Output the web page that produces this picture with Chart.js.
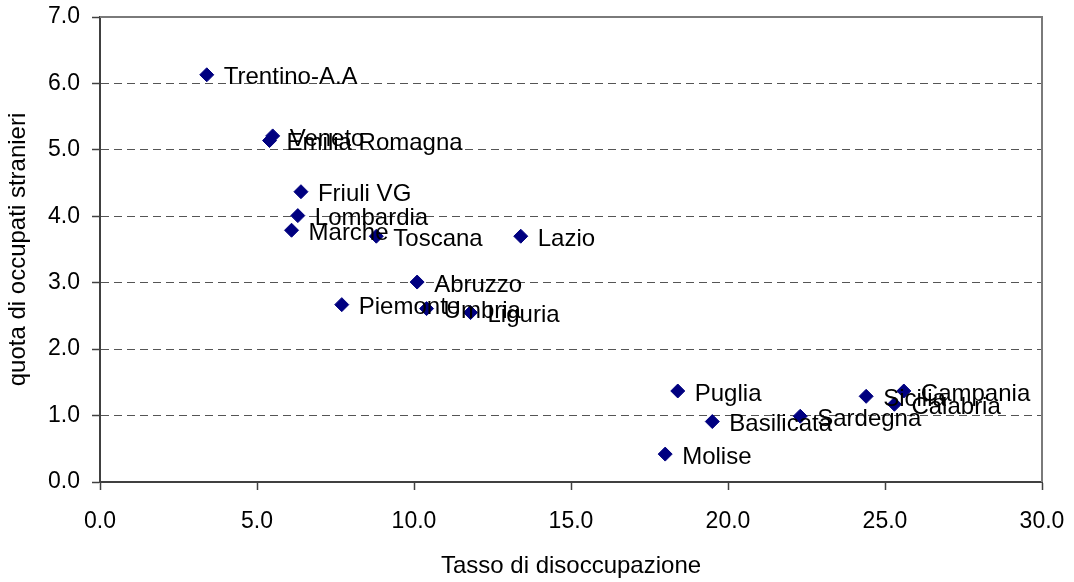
<!DOCTYPE html>
<html>
<head>
<meta charset="utf-8">
<script src="https://cdn.jsdelivr.net/npm/chart.js@4"></script>
<style>
  html, body { margin: 0; padding: 0; background: #fff; }
  #wrap { width: 1074px; height: 582px; }
</style>
</head>
<body>
<div id="wrap"><canvas id="scatter-chart" width="1074" height="582"></canvas></div>
<script>
const regioni = [
  "Trentino-A.A", "Veneto", "Emilia Romagna", "Friuli VG", "Lombardia",
  "Marche", "Toscana", "Lazio", "Abruzzo", "Piemonte", "Umbria", "Liguria",
  "Puglia", "Basilicata", "Molise", "Sardegna", "Sicilia", "Campania", "Calabria"
];
// tasso di disoccupazione (x)
const disoccupazione = [
  3.4, 5.5, 5.4, 6.4, 6.3, 6.1, 8.8, 13.4, 10.1, 7.7, 10.4, 11.8,
  18.4, 19.5, 18.0, 22.3, 24.4, 25.6, 25.3
];
// quota di occupati stranieri (y)
const quotaStranieri = [
  6.13, 5.21, 5.14, 4.37, 4.01, 3.79, 3.70, 3.70, 3.01, 2.67, 2.61, 2.55,
  1.37, 0.91, 0.42, 0.99, 1.29, 1.37, 1.17
];

const fontName = "'Liberation Sans', Arial, sans-serif";
const tickSize = 23;
const textSize = 24;

// etichette accanto ai punti
const pointLabels = {
  id: "pointLabels",
  afterDatasetsDraw(chart) {
    const ctx = chart.ctx;
    const meta = chart.getDatasetMeta(0);
    ctx.save();
    ctx.font = textSize + "px " + fontName;
    ctx.fillStyle = "#000";
    ctx.textBaseline = "middle";
    ctx.textAlign = "left";
    meta.data.forEach((pt, i) => {
      ctx.fillText(regioni[i], pt.x + 17, pt.y + 3);
    });
    ctx.restore();
  }
};

// cornice superiore e destra dell'area del grafico
const frame = {
  id: "frame",
  beforeDatasetsDraw(chart) {
    const { ctx, chartArea: a } = chart;
    ctx.save();
    ctx.strokeStyle = "#7a7a7a";
    ctx.lineWidth = 2;
    ctx.beginPath();
    ctx.moveTo(a.left, a.top);
    ctx.lineTo(a.right, a.top);
    ctx.lineTo(a.right, a.bottom);
    ctx.stroke();
    ctx.restore();
  }
};

new Chart(document.getElementById("scatter-chart"), {
  type: "scatter",
  data: {
    datasets: [{
      data: disoccupazione.map((x, i) => ({ x: x, y: quotaStranieri[i] })),
      pointStyle: "rectRot",
      pointRadius: 7,
      pointHoverRadius: 7,
      backgroundColor: "#000080",
      borderColor: "#000080",
      borderWidth: 1
    }]
  },
  options: {
    responsive: false,
    animation: false,
    layout: { padding: { top: 17, right: 32, left: 0, bottom: 0 } },
    plugins: { legend: { display: false }, tooltip: { enabled: false } },
    scales: {
      x: {
        type: "linear",
        min: 0, max: 30,
        afterFit(scale) {
          scale.height = 100;
          scale.paddingLeft = 0;
          scale.paddingRight = 0;
        },
        ticks: {
          stepSize: 5,
          color: "#000",
          padding: 18,
          font: { family: fontName, size: tickSize },
          callback: v => v.toFixed(1)
        },
        grid: { drawOnChartArea: false, tickLength: 8, tickColor: "#404040", tickWidth: 1.5 },
        border: { color: "#404040", width: 2 },
        title: {
          display: true,
          text: "Tasso di disoccupazione",
          color: "#000",
          font: { family: fontName, size: textSize },
          padding: { top: 0, bottom: 1 }
        }
      },
      y: {
        type: "linear",
        min: 0, max: 7,
        afterFit(scale) {
          scale.width = 100;
          scale.paddingTop = 0;
          scale.paddingBottom = 0;
        },
        ticks: {
          stepSize: 1,
          color: "#000",
          padding: 12,
          font: { family: fontName, size: tickSize },
          callback: v => v.toFixed(1)
        },
        grid: {
          color: ctx => (ctx.tick && (ctx.tick.value === 0 || ctx.tick.value === 7)) ? "rgba(0,0,0,0)" : "#555",
          lineWidth: 1,
          tickLength: 8,
          tickColor: "#404040",
          tickWidth: 1.5,
          tickBorderDash: []
        },
        border: { color: "#404040", width: 2, dash: [8, 5] },
        title: {
          display: true,
          text: "quota di occupati stranieri",
          color: "#000",
          font: { family: fontName, size: textSize },
          padding: { top: 4, bottom: 0 }
        }
      }
    }
  },
  plugins: [frame, pointLabels]
});
</script>
</body>
</html>
